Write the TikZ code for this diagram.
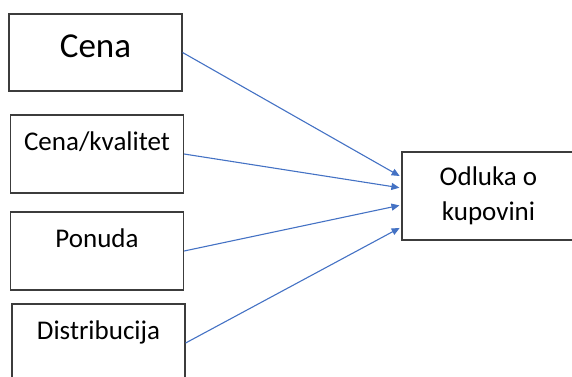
\documentclass[tikz,border=0pt]{standalone}
\usepackage{fontspec}
\setmainfont{Carlito}
\usepackage{tikz}
\usetikzlibrary{arrows.meta}

\definecolor{arrblue}{HTML}{4472C4}
\definecolor{boxgray}{HTML}{3C3C3C}

\begin{document}
\begin{tikzpicture}[x=1pt,y=-1pt,
    box/.style={draw=boxgray,line width=1.2pt,inner sep=0pt,minimum width=173pt,
      font=\fontsize{27}{35}\selectfont},
    arr/.style={draw=arrblue,line width=1.1pt,-{Triangle[length=8pt,width=7pt]},shorten >=2pt}]
        \useasboundingbox (0,0) rectangle (572,376);
        \clip (0,0) rectangle (572,376);
        % factors on the left
        \node[box,text height=43pt,text depth=34pt,font=\fontsize{35}{40}\selectfont] (cena) at (95.5,52.5) {Cena};
        \node[box,text height=35pt,text depth=43pt] (ckv) at (97,154) {Cena/kvalitet};
        \node[box,text height=35pt,text depth=43pt] (pon) at (97,251) {Ponuda};
        \node[box,text height=35pt,text depth=43pt] (dis) at (98.5,343) {Distribucija};
        % decision
        \node[box,minimum height=88pt,align=center] (odl) at (488.5,196) {Odluka o\\kupovini};
        \foreach \n/\s in {cena/19, ckv/8, pon/-9, dis/-31} {
          \draw[arr] (\n.east) -- ([yshift=\s pt]odl.west);
        }
      \end{tikzpicture}
\end{document}
